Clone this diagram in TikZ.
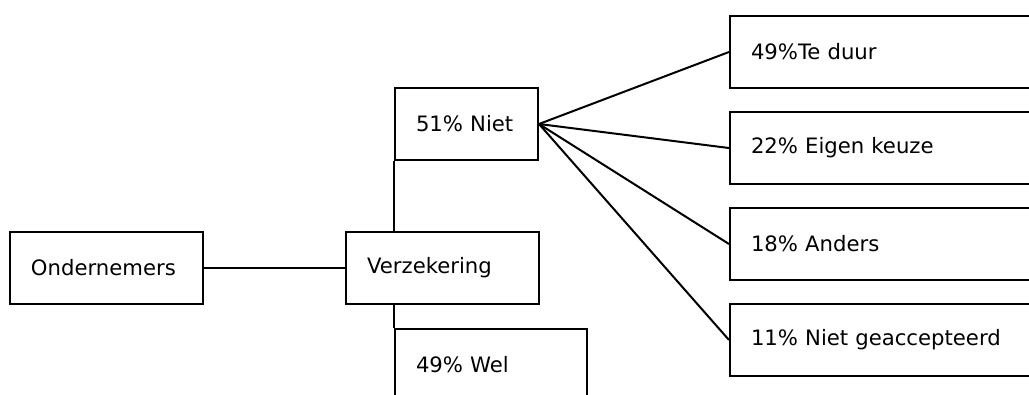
\documentclass[tikz,border=0pt]{standalone}
\usepackage{fontspec}
\setmainfont{DejaVu Sans}

\begin{document}
\begin{tikzpicture}
[x=0.75pt,y=-0.75pt,
  lineDecorate/.style={-,line width=1.5pt},%
  nodeDecorate/.style={shape=rectangle,draw,line width=1.5pt,anchor=north west,
    minimum height=54pt,inner xsep=15.75pt,inner ysep=0pt,align=left,
    font=\fontsize{15.9}{18}\selectfont}]
\clip (0,0) rectangle (1029,394);
\useasboundingbox (0,0) rectangle (1029,394);
%% nodes or boxes
\node (ond) at (9,231) [nodeDecorate,text width=113.25pt] {Ondernemers};
\node (verz) at (345,231) [nodeDecorate,text width=113.25pt] {Verzekering};
\node (niet) at (394,87) [nodeDecorate,text width=75.75pt] {51\% Niet};
\node (wel) at (394,328) [nodeDecorate,text width=112.5pt] {49\% Wel};
\foreach \nodename/\y/\txt in {
  duur/15/49\%Te duur, keuze/111/22\% Eigen keuze,
  anders/207/18\% Anders, geacc/303/11\% Niet geaccepteerd}
{
  \node (\nodename) at (729,\y) [nodeDecorate,text width=208.5pt] {\txt};
}
%% edges or lines
\draw[lineDecorate] (ond.east) -- (verz.west);
\draw[lineDecorate] (niet.south west) -- (niet.south west |- verz.north);
\draw[lineDecorate] (wel.north west |- verz.south) -- (wel.north west);
\path
\foreach \endnode in {duur, keuze, anders, geacc}
{
  (niet.east) edge[lineDecorate] (\endnode.west)
};
\end{tikzpicture}
\end{document}
